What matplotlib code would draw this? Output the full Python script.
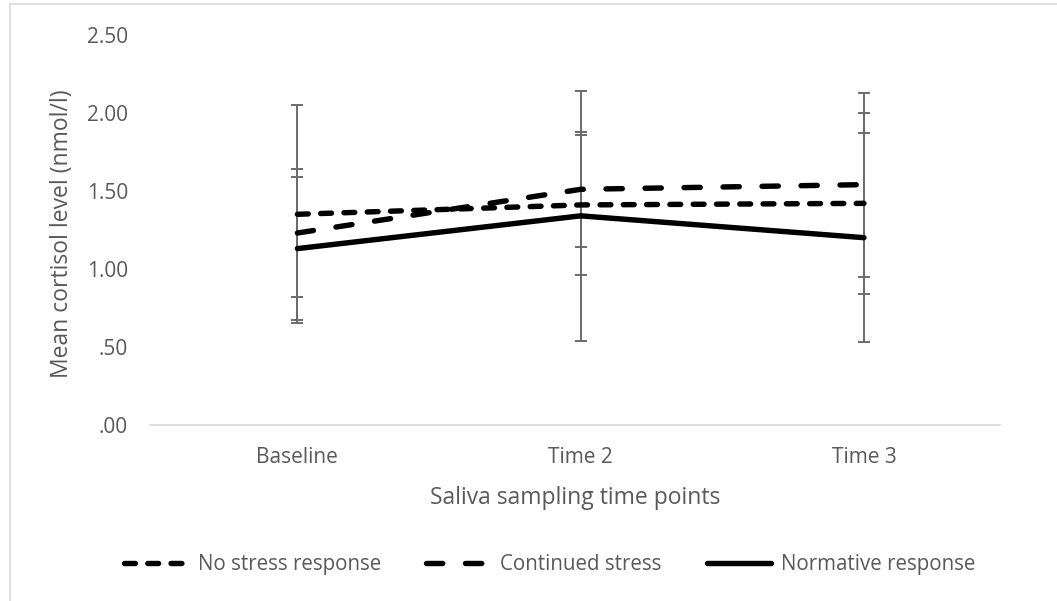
import numpy as np
import matplotlib.pyplot as plt
from matplotlib.patches import Rectangle

plt.rcParams['font.family'] = ['Open Sans', 'DejaVu Sans']

time_points = ['Baseline', 'Time 2', 'Time 3']
no_stress = [1.35, 1.41, 1.42]
no_stress_err = [0.70, 0.45, 0.58]
continued = [1.23, 1.51, 1.54]
continued_err = [0.41, 0.37, 0.59]
normative = [1.13, 1.34, 1.20]
normative_err = [0.46, 0.80, 0.67]

grey = '#595959'
fig = plt.figure(figsize=(10.57, 6.01), dpi=100)
ax = fig.add_axes([0.142, 0.293, 0.804, 0.649])
x = np.arange(len(time_points))

series = [
    (no_stress, no_stress_err, 'No stress response', (0, (2.0, 2.3))),
    (continued, continued_err, 'Continued stress', (0, (3.0, 4.2))),
    (normative, normative_err, 'Normative response', '-'),
]
for vals, err, lab, ls in series:
    ax.errorbar(x, vals, yerr=err, fmt='none', ecolor='#6b6b6b', elinewidth=1.4,
                capsize=4.5, capthick=1.4, zorder=2)
    ax.plot(x, vals, color='black', lw=3.9, linestyle=ls, label=lab,
            solid_capstyle='round', dash_capstyle='round', zorder=3)

ax.set_xlim(-0.52, 2.48)
ax.set_ylim(0, 2.5)
ax.set_yticks([0, 0.5, 1.0, 1.5, 2.0, 2.5])
ax.set_yticklabels(['.00', '.50', '1.00', '1.50', '2.00', '2.50'])
ax.set_xticks(x)
ax.set_xticklabels(time_points)
ax.tick_params(axis='both', length=0, labelsize=15, colors=grey)
ax.tick_params(axis='x', pad=16)
ax.tick_params(axis='y', pad=16)
for s in ['top', 'right', 'left']:
    ax.spines[s].set_visible(False)
ax.spines['bottom'].set_color('#d9d9d9')
ax.spines['bottom'].set_linewidth(1.2)

ax.set_xlabel('Saliva sampling time points', fontsize=16.5, color=grey, labelpad=13)
ax.set_ylabel('Mean cortisol level (nmol/l)', fontsize=16.5, color=grey)
ax.yaxis.set_label_coords(-0.090, 0.49)

leg = fig.legend(loc='center', bbox_to_anchor=(0.52, 0.06), ncol=3, frameon=False,
                 fontsize=14.8, handlelength=3.1, columnspacing=2.2, handletextpad=0.5)
for t in leg.get_texts():
    t.set_color(grey)

fig.patches.append(Rectangle((10 / 1057, -0.01), 1.0, 1 - 4 / 601 + 0.01,
                             transform=fig.transFigure, fill=False,
                             edgecolor='#d9d9d9', lw=1.2))

fig.savefig('out.png', dpi=100)
